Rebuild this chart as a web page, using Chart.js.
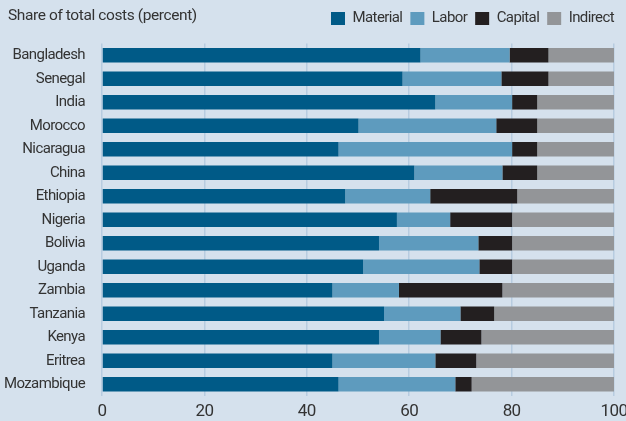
<!DOCTYPE html>
<html>
<head>
<meta charset="utf-8">
<script src="https://cdn.jsdelivr.net/npm/chart.js@4"></script>
<style>
  html, body { margin: 0; padding: 0; background: #d5e1ed; }
  #wrap { position: relative; width: 626px; height: 421px; }
  #title { position: absolute; left: 8px; top: 6px; font-family: Roboto, "DejaVu Sans Condensed", sans-serif; font-size: 15.5px; color: #333; white-space: nowrap; letter-spacing: -0.4px; }
</style>
</head>
<body>
<div id="wrap">
  <canvas id="c" width="626" height="421"></canvas>
  <div id="title">Share of total costs (percent)</div>
</div>
<script>
const countries = ["Bangladesh","Senegal","India","Morocco","Nicaragua","China","Ethiopia","Nigeria","Bolivia","Uganda","Zambia","Tanzania","Kenya","Eritrea","Mozambique"];
const material = [62.2, 58.7, 65.1, 50.1, 46.2, 61.0, 47.5, 57.6, 54.1, 51.0, 45.0, 55.1, 54.1, 45.0, 46.2];
const labor    = [17.4, 19.3, 15.0, 26.9, 33.9, 17.2, 16.6, 10.4, 19.4, 22.7, 13.0, 14.9, 12.0, 20.1, 22.8];
const capital  = [ 7.6,  9.2,  4.9,  8.0,  4.9,  6.8, 17.0, 12.1,  6.6,  6.4, 20.2,  6.6,  8.0,  8.0,  3.2];
const indirect = [12.8, 12.8, 15.0, 15.0, 15.0, 15.0, 18.9, 19.9, 19.9, 19.9, 21.8, 23.4, 25.9, 26.9, 27.8];
const xTicks = [0, 20, 40, 60, 80, 100];

const FONT = 'Roboto, "DejaVu Sans Condensed", sans-serif';
const TEXT = '#333333';

const condense = {
  id: 'condense',
  beforeUpdate(chart) { chart.ctx.letterSpacing = '-0.6px'; },
  beforeDraw(chart) { chart.ctx.letterSpacing = '-0.6px'; },
  afterLayout(chart) {
    const lg = chart.legend;
    if (lg) { lg.top -= 7.5; lg.bottom -= 7.5; lg.left += 8; lg.right += 8; }
  }
};

new Chart(document.getElementById('c'), {
  type: 'bar',
  data: {
    labels: countries,
    datasets: [
      { label: 'Material', data: material, backgroundColor: '#005a87' },
      { label: 'Labor',    data: labor,    backgroundColor: '#5e9bbe' },
      { label: 'Capital',  data: capital,  backgroundColor: '#231f20' },
      { label: 'Indirect', data: indirect, backgroundColor: '#939598' }
    ]
  },
  plugins: [condense],
  options: {
    indexAxis: 'y',
    responsive: false,
    animation: false,
    devicePixelRatio: 1,
    layout: { padding: { left: 0, right: 12, top: 10.5, bottom: 0 } },
    datasets: { bar: { categoryPercentage: 1.0, barPercentage: 0.625, borderWidth: 0 } },
    scales: {
      x: {
        stacked: true,
        min: 0, max: 100,
        afterBuildTicks: (s) => { s.ticks = xTicks.map(v => ({ value: v })); },
        afterFit: (s) => { s.paddingRight = 0; s.paddingLeft = 0; s.height = 25; },
        grid: { color: '#b7cce0', lineWidth: 1.5, drawTicks: false },
        border: { display: false },
        ticks: { color: TEXT, font: { family: FONT, size: 17, lineHeight: 1 }, padding: 7.5, maxRotation: 0 }
      },
      y: {
        stacked: true,
        afterFit: (s) => { s.width = 102; s.paddingTop = 0; s.paddingBottom = 0; },
        grid: { display: false },
        border: { display: false },
        ticks: { color: TEXT, font: { family: FONT, size: 15 }, padding: 9, autoSkip: false }
      }
    },
    plugins: {
      tooltip: { enabled: false },
      legend: {
        position: 'top',
        align: 'end',
        labels: {
          boxWidth: 14, boxHeight: 13, padding: 8,
          color: TEXT,
          font: { family: FONT, size: 15 }
        }
      }
    }
  }
});
</script>
</body>
</html>
